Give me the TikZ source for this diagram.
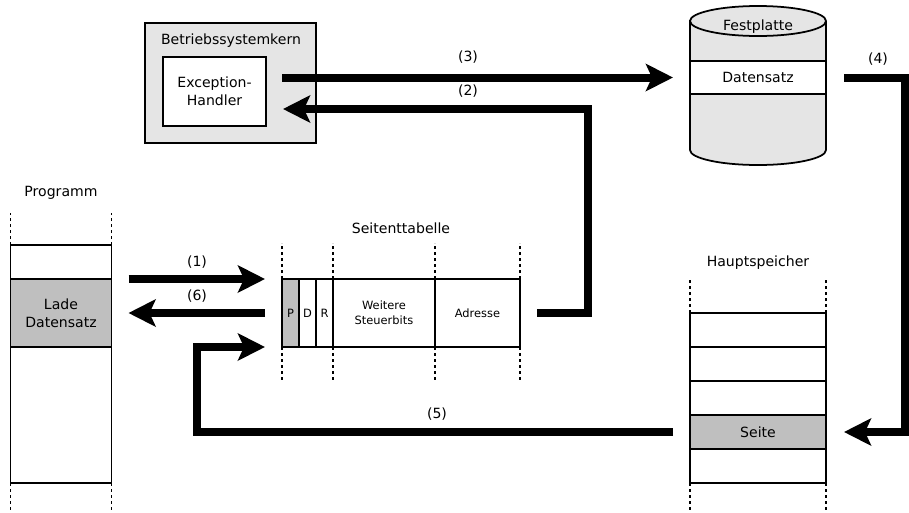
\documentclass[tikz,border=0pt]{standalone}
\usepackage{fontspec}
\setmainfont{DejaVu Sans}
\usetikzlibrary{arrows.meta,positioning}

\begin{document}
\begin{tikzpicture}[
    font=\fontsize{8}{10.5}\selectfont,
    cell/.style={rectangle, draw, line width=1.1pt, inner sep=0pt, outer sep=0pt, align=center},
    memcell/.style={cell, minimum width=2.72cm, minimum height=0.68cm},
    progcell/.style={cell, minimum width=2.02cm},
    tabcell/.style={cell, minimum height=1.36cm, font=\fontsize{6.5}{8.5}\selectfont},
    marked/.style={fill=gray!50},
    guide/.style={line width=0.8pt, dash pattern=on 0.06cm off 0.06cm},
    bigarrow/.style={-{Stealth[length=0.54cm, width=0.54cm, inset=0.12cm]}, line width=0.16cm}
]
\useasboundingbox (0,0) rectangle (18.18,-10.24);

% Betriebssystemkern with exception handler
\node[cell, fill=gray!20, minimum width=3.42cm, minimum height=2.4cm] (kern) at (4.61,-1.66) {};
\node (kernlabel) at (4.62,-0.82) {Betriebssystemkern};
\node[cell, fill=white, minimum width=2.06cm, minimum height=1.38cm] (handler) at (4.29,-1.83) {Exception-\\Handler};

% Festplatte (cylinder)
\draw[line width=1pt, fill=gray!20] (13.8,-0.42) -- (13.8,-3.0)
    arc[start angle=180, end angle=360, x radius=1.36, y radius=0.3]
    -- (16.52,-0.42)
    arc[start angle=0, end angle=180, x radius=1.36, y radius=0.3] -- cycle;
\draw[line width=1pt] (13.8,-0.42) arc[start angle=180, end angle=360, x radius=1.36, y radius=0.3];
\node (disklabel) at (15.16,-0.54) {Festplatte};
\node[memcell, line width=1.3pt, fill=white, minimum height=0.66cm] (datensatz) at (15.16,-1.55) {Datensatz};

% Programm
\node (proglabel) at (1.22,-3.86) {Programm};
\node[progcell, minimum height=0.68cm] (prog1) at (1.22,-5.24) {};
\node[progcell, marked, minimum height=1.36cm] (lade) at (1.22,-6.26) {Lade\\Datensatz};
\node[progcell, minimum height=2.72cm] (prog3) at (1.22,-8.3) {};
\draw[guide] (prog1.north west) -- ++(0,0.64);
\draw[guide] (prog1.north east) -- ++(0,0.64);
\draw[guide] (prog3.south west) -- ++(0,-0.6);
\draw[guide] (prog3.south east) -- ++(0,-0.6);

% Seitentabelle
\node (tablabel) at (8.02,-4.56) {Seitenttabelle};
\node[tabcell, marked, minimum width=0.34cm] (tabP) at (5.81,-6.26) {P};
\node[tabcell, minimum width=0.34cm] (tabD) at (6.15,-6.26) {D};
\node[tabcell, minimum width=0.34cm] (tabR) at (6.49,-6.26) {R};
\node[tabcell, minimum width=2.04cm] (tabW) at (7.68,-6.26) {Weitere\\Steuerbits};
\node[tabcell, minimum width=1.7cm] (tabA) at (9.55,-6.26) {Adresse};
\draw[guide] (tabP.north west) -- ++(0,0.72);
\draw[guide] (tabR.north east) -- ++(0,0.72);
\draw[guide] (tabW.north east) -- ++(0,0.72);
\draw[guide] (tabA.north east) -- ++(0,0.72);
\draw[guide] (tabP.south west) -- ++(0,-0.66);
\draw[guide] (tabR.south east) -- ++(0,-0.66);
\draw[guide] (tabW.south east) -- ++(0,-0.66);
\draw[guide] (tabA.south east) -- ++(0,-0.66);

% Hauptspeicher
\node (memlabel) at (15.16,-5.26) {Hauptspeicher};
\node[memcell] (mem1) at (15.16,-6.6) {};
\node[memcell] (mem2) at (15.16,-7.28) {};
\node[memcell] (mem3) at (15.16,-7.96) {};
\node[memcell, marked] (seite) at (15.16,-8.64) {Seite};
\node[memcell] (mem5) at (15.16,-9.32) {};
\draw[guide] (mem1.north west) -- ++(0,0.7);
\draw[guide] (mem1.north east) -- ++(0,0.7);
\draw[guide] (mem5.south west) -- ++(0,-0.6);
\draw[guide] (mem5.south east) -- ++(0,-0.6);

% Arrows
\draw[bigarrow, shorten <=0.34cm, shorten >=0.34cm] (lade.north east) -- (tabP.north west);
\node (step1) at (3.94,-5.24) {(1)};
\draw[bigarrow, shorten <=0.34cm, shorten >=0.34cm] (tabP.west) -- (lade.east);
\node (step6) at (3.94,-5.92) {(6)};
\draw[bigarrow, shorten <=0.34cm, shorten >=0.34cm] (tabA.east) -- ++(1.36,0) |- ([yshift=-0.35cm]handler.east);
\node (step2) at (9.36,-1.82) {(2)};
\draw[bigarrow, shorten <=0.32cm, shorten >=0.34cm] (handler.east |- datensatz.west) -- (datensatz.west);
\node (step3) at (9.36,-1.14) {(3)};
\draw[bigarrow, shorten <=0.36cm, shorten >=0.36cm] (datensatz.east) -- ++(1.57,0) |- (seite.east);
\node (step4) at (17.56,-1.18) {(4)};
\draw[bigarrow, shorten <=0.34cm, shorten >=0.34cm] (seite.west) -| ([xshift=-1.7cm]tabP.south west) -- (tabP.south west);
\node (step5) at (8.74,-8.28) {(5)};

\end{tikzpicture}
\end{document}
